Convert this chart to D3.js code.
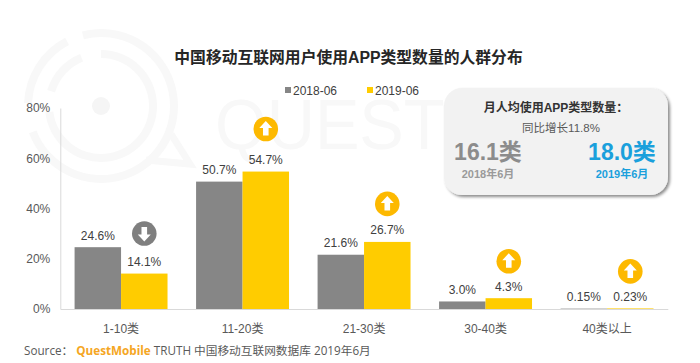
<!DOCTYPE html>
<html>
<head>
<meta charset="utf-8">
<script src="https://cdn.jsdelivr.net/npm/d3@7/dist/d3.min.js"></script>
<style>
  html, body { margin: 0; padding: 0; background: #fff; }
  text { font-family: "Liberation Sans", "Noto Sans CJK SC", sans-serif; }
  .tick text, .bar-label, .cat-label, .legend-label { fill: #404040; font-size: 12px; }
  .tick text { fill: #595959; }
</style>
</head>
<body>
<div id="wrapper"></div>
<script>
const categories = ["1-10类", "11-20类", "21-30类", "30-40类", "40类以上"]
const seriesNames = ["2018-06", "2019-06"]
const values2018 = [24.6, 50.7, 21.6, 3.0, 0.15]
const values2019 = [14.1, 54.7, 26.7, 4.3, 0.23]
const labels2018 = ["24.6%", "50.7%", "21.6%", "3.0%", "0.15%"]
const labels2019 = ["14.1%", "54.7%", "26.7%", "4.3%", "0.23%"]
const trends = ["down", "up", "up", "up", "up"]
const yTicks = [0, 20, 40, 60, 80]

function drawChart() {

  // 1. Dimensions
  const dimensions = { width: 700, height: 363, left: 60.3, right: 667.8, top: 108, bottom: 309 }
  const colors = { gray: "#868686", yellow: "#ffcc00", badge: "#fdb900", axis: "#d9d9d9", blue: "#1aa0dc" }

  const svg = d3.select("#wrapper").append("svg")
      .attr("width", dimensions.width)
      .attr("height", dimensions.height)
      .style("display", "block")

  const defs = svg.append("defs")
  const shadow = defs.append("filter").attr("id", "card-shadow")
      .attr("x", "-10%").attr("y", "-10%").attr("width", "125%").attr("height", "130%")
  shadow.append("feDropShadow")
      .attr("dx", 2).attr("dy", 2).attr("stdDeviation", 1.6)
      .attr("flood-color", "#000").attr("flood-opacity", 0.45)

  // 2. Watermark
  const mark = svg.append("g").attr("fill", "none").attr("stroke", "#f8f8f8")
  const arc = d3.arc()
  const ringArcs = [
    [69, 77, -0.25, 4.35], [69, 77, 4.75, 5.8],
    [48, 56, 0, 4.6], [48, 56, 5.0, 5.9],
  ]
  ringArcs.forEach(([innerRadius, outerRadius, startAngle, endAngle]) => {
    mark.append("path")
      .attr("transform", "translate(101,106)")
      .attr("d", arc({ innerRadius, outerRadius, startAngle, endAngle }))
      .attr("fill", "#f8f8f8").attr("stroke", "none")
  })
  mark.append("circle").attr("cx", 101).attr("cy", 106).attr("r", 9)
      .attr("fill", "#f5f5f5").attr("stroke", "none")
  mark.append("path").attr("d", "M171 134L190 164L146 160").attr("stroke-width", 7)
  svg.append("text").attr("x", 215).attr("y", 149)
      .attr("font-size", 70).attr("fill", "#f8f8f8")
      .attr("textLength", 285).attr("lengthAdjust", "spacingAndGlyphs")
      .text("QUESTM")

  // 3. Scales
  const xScale = d3.scaleBand()
      .domain(categories)
      .range([dimensions.left, dimensions.right])
      .paddingInner(0.235)
      .paddingOuter(0.1175)
  const seriesScale = d3.scaleBand()
      .domain(seriesNames)
      .range([0, xScale.bandwidth()])
  const yScale = d3.scaleLinear()
      .domain([0, 80])
      .range([dimensions.bottom, dimensions.top])

  // 4. Axes
  const yAxis = svg.append("g")
      .attr("transform", `translate(${dimensions.left},0)`)
      .call(d3.axisLeft(yScale).tickValues(yTicks).tickSize(0).tickPadding(10).tickFormat(d => d + "%"))
  yAxis.select(".domain").attr("stroke", colors.axis)

  const xAxis = svg.append("g")
      .attr("transform", `translate(0,${dimensions.bottom})`)
      .call(d3.axisBottom(xScale).tickSize(0).tickPadding(15))
  xAxis.select(".domain").attr("stroke", colors.axis)
  xAxis.selectAll("text").attr("class", "cat-label")

  // 5. Bars and labels
  const drawSeries = (name, values, labels, color) => {
    const x = (d, i) => xScale(categories[i]) + seriesScale(name)
    svg.append("g").selectAll("rect").data(values).join("rect")
        .attr("x", x)
        .attr("y", d => yScale(d))
        .attr("width", seriesScale.bandwidth())
        .attr("height", d => yScale(0) - yScale(d))
        .attr("fill", color)
    svg.append("g").selectAll("text").data(labels).join("text")
        .attr("class", "bar-label")
        .attr("x", (d, i) => x(d, i) + seriesScale.bandwidth() / 2)
        .attr("y", (d, i) => yScale(values[i]) - 7.5)
        .attr("text-anchor", "middle")
        .text(d => d)
  }
  drawSeries(seriesNames[0], values2018, labels2018, colors.gray)
  drawSeries(seriesNames[1], values2019, labels2019, colors.yellow)

  // 6. Trend badges above the 2019 bars
  const badgeGaps = [40, 42.5, 38, 37, 37]
  const arrow = "M0 -8L6.5 -1L2.8 -1L2.8 6.5L-2.8 6.5L-2.8 -1L-6.5 -1Z"
  const badges = svg.append("g").selectAll("g").data(trends).join("g")
      .attr("transform", (d, i) => {
        const bx = xScale(categories[i]) + seriesScale(seriesNames[1]) + seriesScale.bandwidth() / 2
        return `translate(${bx},${yScale(values2019[i]) - badgeGaps[i]})`
      })
  badges.append("circle")
      .attr("r", 12.3)
      .attr("fill", d => d === "up" ? colors.badge : "#7f7f7f")
  badges.append("path")
      .attr("d", arrow)
      .attr("fill", "#fff")
      .attr("transform", d => d === "up" ? "" : "rotate(180)")

  // 7. Title and legend
  svg.append("text")
      .attr("x", 348.5).attr("y", 63)
      .attr("text-anchor", "middle")
      .attr("font-size", 15.8).attr("font-weight", 700).attr("fill", "#262626")
      .text("中国移动互联网用户使用APP类型数量的人群分布")

  const legendX = d3.scaleOrdinal().domain(seriesNames).range([285, 367])
  const legend = svg.append("g").selectAll("g").data(seriesNames).join("g")
      .attr("transform", d => `translate(${legendX(d)},87)`)
  legend.append("rect")
      .attr("width", 6).attr("height", 6)
      .attr("fill", (d, i) => i ? colors.yellow : colors.gray)
  legend.append("text")
      .attr("class", "legend-label")
      .attr("x", 8).attr("y", 8)
      .text(d => d)

  // 8. Summary card
  svg.append("rect")
      .attr("x", 444).attr("y", 88)
      .attr("width", 224).attr("height", 107)
      .attr("rx", 18)
      .attr("fill", "#f2f2f2")
      .attr("filter", "url(#card-shadow)")
  const cardText = [
    { x: 556, y: 112, size: 12, weight: 700, fill: "#333", text: "月人均使用APP类型数量：" },
    { x: 561, y: 132, size: 11.5, weight: 400, fill: "#595959", text: "同比增长11.8%" },
    { x: 488, y: 160, size: 23, weight: 700, fill: "#8c8c8c", text: "16.1类" },
    { x: 622, y: 160, size: 23, weight: 700, fill: colors.blue, text: "18.0类" },
    { x: 488, y: 178, size: 11, weight: 700, fill: "#9a9a9a", text: "2018年6月" },
    { x: 622, y: 178, size: 11, weight: 700, fill: colors.blue, text: "2019年6月" },
  ]
  svg.append("g").selectAll("text").data(cardText).join("text")
      .attr("x", d => d.x).attr("y", d => d.y)
      .attr("text-anchor", "middle")
      .attr("font-size", d => d.size)
      .attr("font-weight", d => d.weight)
      .attr("fill", d => d.fill)
      .text(d => d.text)

  // 9. Source line
  const source = svg.append("text")
      .attr("x", 24).attr("y", 355)
      .attr("font-size", 11.7).attr("fill", "#595959")
      .style("font-family", "'Open Sans', 'Noto Sans CJK SC', sans-serif")
  source.append("tspan").text("Source：  ")
  source.append("tspan").attr("font-weight", 700).attr("fill", "#f5a623").text("QuestMobile")
  source.append("tspan").text(" TRUTH 中国移动互联网数据库 2019年6月")
}
drawChart()
</script>
</body>
</html>
